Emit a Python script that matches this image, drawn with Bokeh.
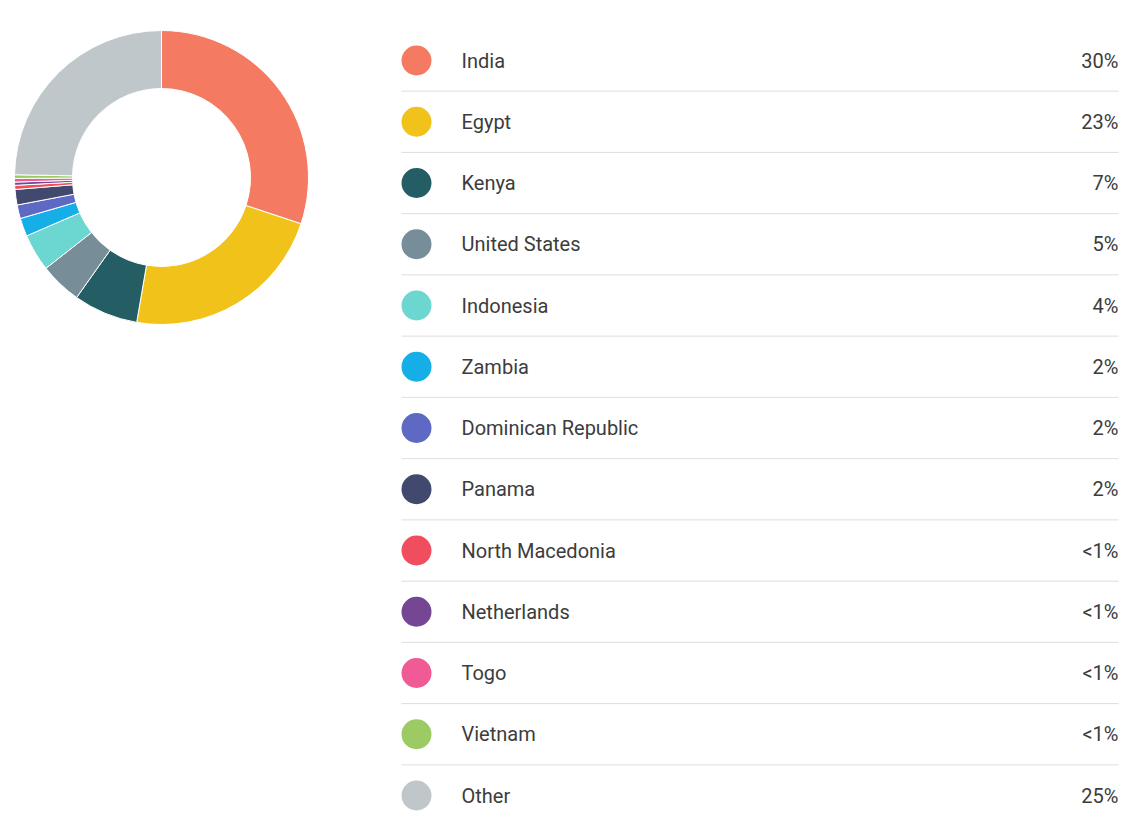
import math
from bokeh.plotting import figure
from bokeh.models import Range1d, ColumnDataSource
from bokeh.core.properties import value
from bokeh.embed import file_html
from bokeh.resources import INLINE

# ---- data ----
countries = ["India", "Egypt", "Kenya", "United States", "Indonesia", "Zambia",
             "Dominican Republic", "Panama", "North Macedonia", "Netherlands",
             "Togo", "Vietnam", "Other"]
shares = [30.1, 22.6, 7.1, 4.6, 4.1, 2.0, 1.5, 1.7, 0.45, 0.35, 0.4, 0.4, 24.7]
labels = ["30%", "23%", "7%", "5%", "4%", "2%", "2%", "2%", "<1%", "<1%", "<1%", "<1%", "25%"]
colors = ["#F47A61", "#F1C31A", "#245D63", "#778E99", "#6CD6D0", "#16AEE7",
          "#5E69C3", "#414A6E", "#F04E5E", "#744694", "#F05A95", "#9CCB64", "#BFC7CB"]

W, H = 1143, 835
p = figure(width=W, height=H, output_backend="svg", toolbar_location=None,
           x_range=Range1d(0, W), y_range=Range1d(0, H), min_border=0)
p.axis.visible = False
p.grid.visible = False
p.outline_line_color = None
p.background_fill_color = "white"
p.border_fill_color = "white"

# ---- donut ----
total = sum(shares)
starts, ends = [], []
cum = 0.0
for s in shares:
    starts.append(math.pi / 2 - 2 * math.pi * cum / total)
    cum += s
    ends.append(math.pi / 2 - 2 * math.pi * cum / total)
cx, cy = 161, H - 177
src = ColumnDataSource(dict(start=starts, end=ends, color=colors))
p.annular_wedge(x=cx, y=cy, inner_radius=89, outer_radius=147,
                start_angle="start", end_angle="end", direction="clock",
                fill_color="color", line_color="white", line_width=1, source=src)

# ---- legend list ----
row0, step = 60, 61.25
ys = [H - (row0 + i * step) for i in range(len(countries))]
lsrc = ColumnDataSource(dict(y=ys, name=countries, lab=labels, color=colors,
                             cx=[416] * len(ys), tx=[461] * len(ys), px=[1118] * len(ys)))
sep_y = [H - (row0 + i * step + step / 2) for i in range(len(countries) - 1)]
p.segment(x0=401, x1=1118, y0=sep_y, y1=sep_y, line_color="#DDDDDD", line_width=1)
p.scatter(x="cx", y="y", size=30, marker="circle", fill_color="color",
          line_color=None, source=lsrc)
p.text(x="tx", y="y", text="name", source=lsrc, text_font=value("Roboto"),
       text_font_size="20px", text_color="#3C3C3C", text_baseline="middle",
       text_align="left")
p.text(x="px", y="y", text="lab", source=lsrc, text_font=value("Roboto"),
       text_font_size="20px", text_color="#3C3C3C", text_baseline="middle",
       text_align="right")

open("out.html", "w").write(file_html(p, INLINE))
